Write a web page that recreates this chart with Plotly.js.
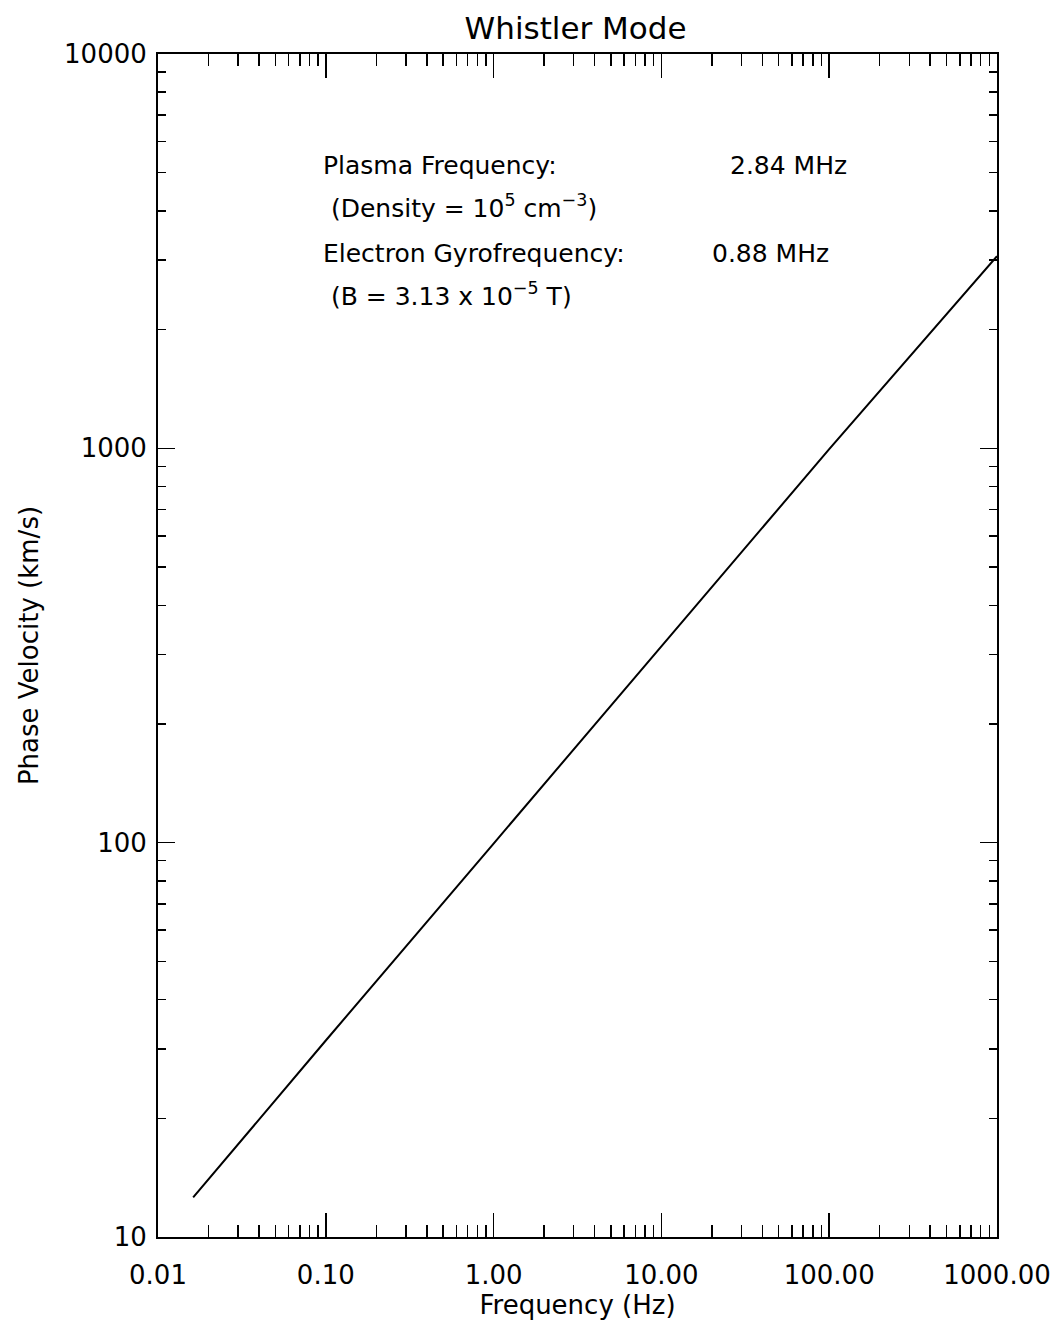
<!DOCTYPE html>
<html>
<head>
<meta charset="utf-8">
<script src="https://cdn.plot.ly/plotly-3.0.1.min.js"></script>
<style>html,body{margin:0;padding:0;background:#fff;}#chart{width:1061px;height:1320px;}</style>
</head>
<body>
<div id="chart"></div>
<script>
// Data
const frequencyHz = [0.0162, 0.1, 1, 10, 100, 1000];
const phaseVelocity = [12.6, 31.5, 99.5, 315, 995, 3070];

const xTickVals = [0.01, 0.1, 1, 10, 100, 1000];
const xTickText = ["0.01", "0.10", "1.00", "10.00", "100.00", "1000.00"];
const yTickVals = [10, 100, 1000, 10000];
const yTickText = ["10", "100", "1000", "10000"];

const infoLines = [
  "Plasma Frequency:",
  " (Density = 10<sup>5</sup> cm<sup>\u22123</sup>)",
  "Electron Gyrofrequency:",
  " (B = 3.13 x 10<sup>\u22125</sup> T)"
];
const infoValues = ["2.84 MHz", "0.88 MHz"];

function minorVals(lo, hi) {
  const out = [];
  for (let d = lo; d < hi; d++) {
    for (let k = 2; k <= 9; k++) out.push(k * Math.pow(10, d));
  }
  return out;
}
const xMinor = minorVals(-2, 3);
const yMinor = minorVals(1, 4);

const FONT = "DejaVu Sans";
const baseAxis = {
  type: "log",
  showgrid: false,
  zeroline: false,
  showline: true,
  linecolor: "#000",
  linewidth: 2,
  ticks: "inside",
  tickcolor: "#000",
  tickwidth: 1.5,
};

const trace = {
  x: frequencyHz, y: phaseVelocity,
  mode: "lines", line: {color: "#000", width: 2},
  xaxis: "x", yaxis: "y", hoverinfo: "skip", showlegend: false
};
const ghost = {
  x: frequencyHz, y: phaseVelocity,
  mode: "lines", line: {color: "rgba(0,0,0,0)", width: 0},
  xaxis: "x2", yaxis: "y2", hoverinfo: "skip", showlegend: false
};

const annFont = {family: FONT, size: 25, color: "#000"};
const annotations = [
  {text: infoLines[0], x: 321, y: 165},
  {text: infoLines[1], x: 321, y: 206},
  {text: infoLines[2], x: 321, y: 253},
  {text: infoLines[3], x: 321, y: 294},
  {text: infoValues[0], x: 728, y: 165},
  {text: infoValues[1], x: 710, y: 253}
].map(a => ({
  text: a.text, showarrow: false, xref: "paper", yref: "paper",
  x: (a.x - 158) / (997 - 158), y: (1237 - a.y) / (1237 - 54),
  xanchor: "left", yanchor: "middle", font: annFont
}));

const layout = {
  width: 1061, height: 1320,
  paper_bgcolor: "#fff", plot_bgcolor: "#fff",
  margin: {l: 158, r: 64, t: 54, b: 83},
  font: {family: FONT, color: "#000"},
  title: {text: "Whistler Mode", font: {family: FONT, size: 31, color: "#000"},
          x: 0.5425, xanchor: "center", y: 1 - 28 / 1320, yanchor: "middle"},
  xaxis: Object.assign({}, baseAxis, {
    range: [-2, 3],
    tickvals: xTickVals, ticktext: xTickText, ticklen: 24,
    ticklabelstandoff: 14,
    tickfont: {family: FONT, size: 26, color: "#000"},
    minor: {tickvals: xMinor, ticks: "inside", ticklen: 12, tickcolor: "#000", tickwidth: 1.5, showgrid: false},
    title: {text: "Frequency (Hz)", font: {family: FONT, size: 26, color: "#000"}, standoff: 7}
  }),
  yaxis: Object.assign({}, baseAxis, {
    range: [1, 4],
    tickvals: yTickVals, ticktext: yTickText, ticklen: 17,
    ticklabelstandoff: 4,
    tickfont: {family: FONT, size: 26, color: "#000"},
    minor: {tickvals: yMinor, ticks: "inside", ticklen: 8, tickcolor: "#000", tickwidth: 1.5, showgrid: false},
    title: {text: "Phase Velocity (km/s)", font: {family: FONT, size: 26, color: "#000"}, standoff: 18}
  }),
  xaxis2: Object.assign({}, baseAxis, {
    range: [-2, 3], overlaying: "x", side: "top", anchor: "y2",
    tickvals: xTickVals, showticklabels: false, ticklen: 24,
    minor: {tickvals: xMinor, ticks: "inside", ticklen: 12, tickcolor: "#000", tickwidth: 1.5, showgrid: false}
  }),
  yaxis2: Object.assign({}, baseAxis, {
    range: [1, 4], overlaying: "y", side: "right", anchor: "x2",
    tickvals: yTickVals, showticklabels: false, ticklen: 17,
    minor: {tickvals: yMinor, ticks: "inside", ticklen: 8, tickcolor: "#000", tickwidth: 1.5, showgrid: false}
  }),
  annotations: annotations,
  showlegend: false
};

Plotly.newPlot("chart", [trace, ghost], layout, {staticPlot: true, displayModeBar: false});
</script>
</body>
</html>
